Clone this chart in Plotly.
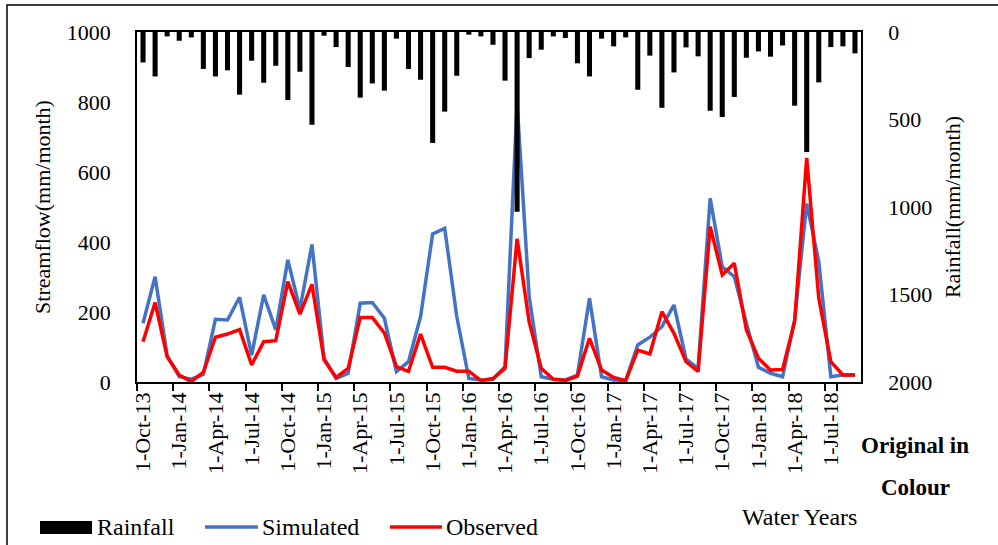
import plotly.graph_objects as go
import datetime as dt

# ---- data ----
months = []
y, m = 2013, 10
for _ in range(60):
    months.append(dt.date(y, m, 1).strftime("%d-%b-%y").lstrip("0"))
    m += 1
    if m > 12:
        m = 1
        y += 1

rainfall = [174, 254, 25, 50, 31, 211, 254, 219, 358, 164, 290, 193,
            389, 227, 530, 21, 86, 200, 375, 294, 335, 38, 211, 273,
            634, 455, 250, 15, 25, 73, 278, 1027, 149, 101, 25, 34,
            179, 254, 38, 82, 31, 330, 135, 433, 231, 88, 139, 450,
            486, 371, 147, 111, 141, 77, 421, 686, 288, 86, 82, 122]

simulated = [168, 301, 75, 15, 8, 22, 179, 177, 242, 77, 249, 149,
             349, 208, 393, 68, 10, 25, 225, 227, 182, 30, 58, 187,
             423, 439, 187, 10, 6, 8, 44, 797, 244, 15, 8, 6,
             20, 239, 15, 6, 4, 106, 128, 158, 220, 65, 39, 525,
             329, 301, 168, 42, 25, 15, 177, 510, 344, 15, 20, 20]

observed = [115, 227, 72, 20, 1, 28, 128, 137, 150, 49, 115, 118,
            287, 194, 279, 63, 13, 39, 184, 184, 140, 44, 30, 137,
            42, 42, 31, 31, 4, 10, 39, 409, 172, 39, 8, 4,
            17, 125, 34, 13, 4, 91, 80, 201, 139, 58, 30, 444,
            306, 339, 149, 68, 34, 36, 172, 640, 239, 58, 20, 20]

tick_labels = months[::3]

FONT = "Times New Roman, Liberation Serif, serif"
FS = 22
FS_LEG = 24
BLUE = "#4472C4"
RED = "#FF0000"

fig = go.Figure()
fig.add_trace(go.Scatter(x=months, y=simulated, name="Simulated", mode="lines",
                         line=dict(color=BLUE, width=3.5), yaxis="y", showlegend=False))
fig.add_trace(go.Scatter(x=months, y=observed, name="Observed", mode="lines",
                         line=dict(color=RED, width=3.5), yaxis="y", showlegend=False))
fig.add_trace(go.Bar(x=months, y=rainfall, name="Rainfall", marker=dict(color="black", line=dict(width=0)),
                     width=0.42, yaxis="y2", showlegend=False))

# plot area in pixels: x 137..861, y 32..382
L, R, T, B = 137, 861, 32, 382
W, H = R - L, B - T
def px(x):
    return (x - L) / W
def py(y):
    return (B - y) / H

shapes = [
    # outer frame
    dict(type="rect", xref="paper", yref="paper", x0=px(7), x1=px(1012), y0=py(565), y1=py(5),
         line=dict(color="black", width=1.5), layer="below"),
    # legend swatches
    dict(type="rect", xref="paper", yref="paper", x0=px(40), x1=px(92), y0=py(534), y1=py(521),
         fillcolor="black", line=dict(width=0)),
    dict(type="line", xref="paper", yref="paper", x0=px(205), x1=px(258), y0=py(527), y1=py(527),
         line=dict(color=BLUE, width=3.5)),
    dict(type="line", xref="paper", yref="paper", x0=px(390), x1=px(442), y0=py(527), y1=py(527),
         line=dict(color=RED, width=3.5)),
]

def ann(text, x, y, xanchor="left", bold=False, size=FS):
    return dict(text=f"<b>{text}</b>" if bold else text, xref="paper", yref="paper",
                x=px(x), y=py(y), xanchor=xanchor, yanchor="middle", showarrow=False,
                font=dict(family=FONT, size=size, color="black"))

annotations = [
    ann("Rainfall", 95, 527, size=FS_LEG),
    ann("Simulated", 260, 527, size=FS_LEG),
    ann("Observed", 444, 527, size=FS_LEG),
    ann("Original in", 915, 445, "center", True, size=23),
    ann("Colour", 915, 487, "center", True, size=23),
    ann("Water Years", 799, 517, "center", size=FS_LEG),
]

fig.update_layout(
    width=998, height=545,
    margin=dict(l=L, r=998 - R, t=T, b=545 - B, pad=0),
    paper_bgcolor="white", plot_bgcolor="white",
    font=dict(family=FONT, size=FS, color="black"),
    showlegend=False,
    bargap=0.5,
    shapes=shapes,
    annotations=annotations,
    xaxis=dict(
        type="category", range=[-0.5, 59.5],
        tickmode="array", tickvals=tick_labels, ticktext=tick_labels,
        tickangle=-90, tickson="boundaries", ticks="outside", ticklen=7, tickwidth=1.5,
        tickcolor="black", showgrid=False, showline=True, linecolor="black", linewidth=1.5,
        mirror=True, zeroline=False, tickfont=dict(family=FONT, size=FS),
    ),
    yaxis=dict(
        range=[0, 1000], tickmode="array", tickvals=[0, 200, 400, 600, 800, 1000],
        showgrid=False, zeroline=False, showline=True, linecolor="black", linewidth=1.5,
        ticks="", ticklabelstandoff=20,
        title=dict(text="Streamflow(mm/month)", font=dict(family=FONT, size=FS), standoff=10),
        tickfont=dict(family=FONT, size=FS),
    ),
    yaxis2=dict(
        overlaying="y", side="right", range=[2000, 0],
        tickmode="array", tickvals=[0, 500, 1000, 1500, 2000],
        showgrid=False, zeroline=False, showline=True, linecolor="black", linewidth=1.5,
        ticks="", ticklabelstandoff=21,
        title=dict(text="Rainfall(mm/month)", font=dict(family=FONT, size=FS), standoff=13),
        tickfont=dict(family=FONT, size=FS),
    ),
)

fig.write_html("out.html", config={"displayModeBar": False},
               post_script="document.body.style.margin='0px';document.body.style.overflow='hidden';")
